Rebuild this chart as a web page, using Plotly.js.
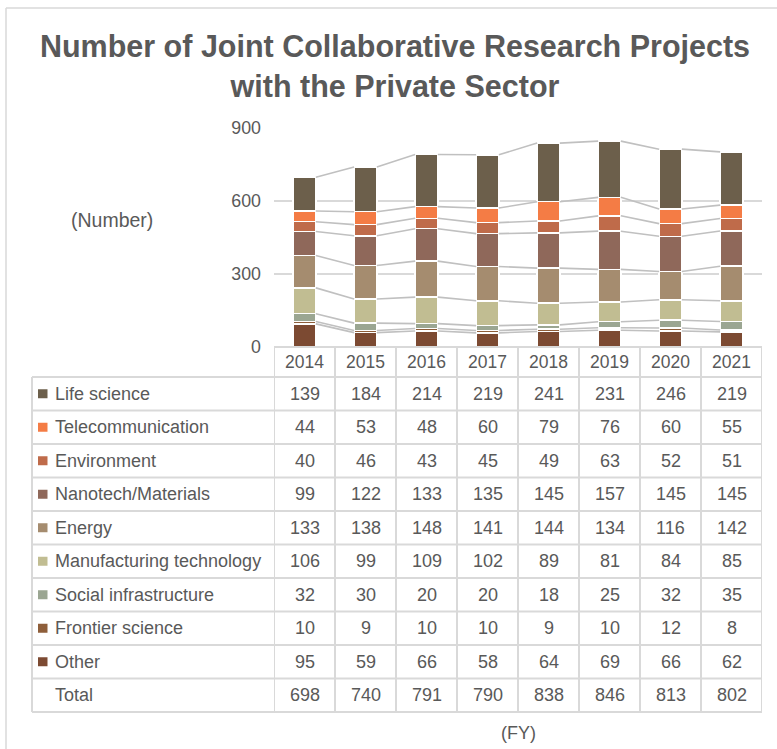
<!DOCTYPE html>
<html>
<head>
<meta charset="utf-8">
<script src="https://cdn.plot.ly/plotly-3.0.1.min.js"></script>
<style>html,body{margin:0;padding:0;background:#fff;}#chart{width:777px;height:749px;}</style>
</head>
<body>
<div id="chart"></div>
<script>
// ---- data ----
const years = [2014, 2015, 2016, 2017, 2018, 2019, 2020, 2021];
// stacking order: bottom to top
const categories = ["Other", "Frontier science", "Social infrastructure", "Manufacturing technology",
  "Energy", "Nanotech/Materials", "Environment", "Telecommunication", "Life science"];
const other        = [95, 59, 66, 58, 64, 69, 66, 62];
const frontier     = [10, 9, 10, 10, 9, 10, 12, 8];
const socialInfra  = [32, 30, 20, 20, 18, 25, 32, 35];
const manufacturing= [106, 99, 109, 102, 89, 81, 84, 85];
const energy       = [133, 138, 148, 141, 144, 134, 116, 142];
const nanotech     = [99, 122, 133, 135, 145, 157, 145, 145];
const environment  = [40, 46, 43, 45, 49, 63, 52, 51];
const telecom      = [44, 53, 48, 60, 79, 76, 60, 55];
const lifeScience  = [139, 184, 214, 219, 241, 231, 246, 219];
const totals       = [698, 740, 791, 790, 838, 846, 813, 802];
const yTicks = [0, 300, 600, 900];

const seriesValues = [other, frontier, socialInfra, manufacturing, energy, nanotech, environment, telecom, lifeScience];
const colors = ["#7c4a32", "#8e5e3a", "#9ba692", "#c1bd92", "#a58c6f", "#8f685a", "#bf6b4a", "#f47c45", "#6c5f4b"];

// ---- geometry helpers ----
const W = 777, H = 749;
const px = x => x / W;
const py = y => 1 - y / H;
const barW = 0.373;
const txt = "#595959";
const FONT = "Liberation Sans, Arial, sans-serif";
const gridC = "#d9d9d9";

const traces = [];
// connector lines (behind bars)
const cum = years.map(() => 0);
const cumLevels = [];
seriesValues.forEach((vals) => {
  const lvl = vals.map((v, i) => cum[i] += v);
  cumLevels.push(lvl.slice());
});
cumLevels.forEach((lvl) => {
  const xs = [], ys = [];
  for (let i = 0; i < years.length - 1; i++) {
    xs.push(years[i] + barW / 2, years[i + 1] - barW / 2, null);
    ys.push(lvl[i], lvl[i + 1], null);
  }
  traces.push({type: "scatter", mode: "lines", x: xs, y: ys, showlegend: false, hoverinfo: "skip",
    line: {color: "#c0c0c0", width: 1.6}, connectgaps: false});
});
seriesValues.forEach((vals, k) => {
  traces.push({type: "bar", x: years, y: vals, name: categories[k], width: barW,
    marker: {color: colors[k], line: {color: "#ffffff", width: 1.5}}, showlegend: false});
});

// ---- table ----
const shapes = [];
const annotations = [];
const tableTop = 347, headerBottom = 377, rowH = 33.5, tableLeft = 32;
const rowOrder = categories.slice().reverse(); // top row first
const rowValues = seriesValues.slice().reverse();
const rowColors = colors.slice().reverse();
const nRows = rowOrder.length + 1;
const tableBottom = headerBottom + rowH * nRows;
const lineStyle = {color: gridC, width: 2};
const cellFont = {family: FONT, size: 18, color: txt};

// horizontal lines
shapes.push({type: "line", xref: "x", yref: "paper", x0: years[0] - 0.5, x1: years[years.length - 1] + 0.5,
  y0: py(tableTop), y1: py(tableTop), line: lineStyle});
for (let r = 0; r <= nRows; r++) {
  const y = headerBottom + r * rowH;
  shapes.push({type: "line", xref: "paper", yref: "paper", x0: px(tableLeft), x1: px(762),
    y0: py(y), y1: py(y), line: lineStyle});
}
// vertical lines
for (let k = 0; k <= years.length; k++) {
  shapes.push({type: "line", xref: "x", yref: "paper", x0: years[0] - 0.5 + k, x1: years[0] - 0.5 + k,
    y0: py(tableTop), y1: py(tableBottom), line: lineStyle});
}
shapes.push({type: "line", xref: "paper", yref: "paper", x0: px(tableLeft), x1: px(tableLeft),
  y0: py(headerBottom), y1: py(tableBottom), line: lineStyle});

// outer chart border (top and left)
shapes.push({type: "line", xref: "paper", yref: "paper", x0: px(6), x1: px(790), y0: py(8), y1: py(8),
  line: {color: gridC, width: 1.5}});
shapes.push({type: "line", xref: "paper", yref: "paper", x0: px(6), x1: px(6), y0: py(8), y1: py(760),
  line: {color: gridC, width: 1.5}});

// header (year labels)
years.forEach((yr) => {
  annotations.push({xref: "x", yref: "paper", x: yr, y: py((tableTop + headerBottom) / 2), text: String(yr),
    showarrow: false, xanchor: "center", yanchor: "middle", font: {family: FONT, size: 17.5, color: txt}});
});
// rows
rowOrder.forEach((name, r) => {
  const cy = headerBottom + rowH * (r + 0.5);
  shapes.push({type: "rect", xref: "paper", yref: "paper", x0: px(38), x1: px(47.5),
    y0: py(cy - 4.5), y1: py(cy + 4.5), fillcolor: rowColors[r], line: {width: 0}});
  annotations.push({xref: "paper", yref: "paper", x: px(53), y: py(cy), text: name, showarrow: false,
    xanchor: "left", yanchor: "middle", font: cellFont});
  rowValues[r].forEach((v, i) => {
    annotations.push({xref: "x", yref: "paper", x: years[i], y: py(cy), text: String(v), showarrow: false,
      xanchor: "center", yanchor: "middle", font: cellFont});
  });
});
{
  const cy = headerBottom + rowH * (rowOrder.length + 0.5);
  annotations.push({xref: "paper", yref: "paper", x: px(53), y: py(cy), text: "Total", showarrow: false,
    xanchor: "left", yanchor: "middle", font: cellFont});
  totals.forEach((v, i) => {
    annotations.push({xref: "x", yref: "paper", x: years[i], y: py(cy), text: String(v), showarrow: false,
      xanchor: "center", yanchor: "middle", font: cellFont});
  });
}
// axis unit labels
annotations.push({xref: "paper", yref: "paper", x: px(112), y: py(220), text: "(Number)", showarrow: false,
  xanchor: "center", yanchor: "middle", font: {family: FONT, size: 19.5, color: txt}});
annotations.push({xref: "paper", yref: "paper", x: px(518), y: py(733), text: "(FY)", showarrow: false,
  xanchor: "center", yanchor: "middle", font: {family: FONT, size: 18, color: txt}});

const layout = {
  width: W, height: H,
  margin: {l: 0, r: 0, t: 0, b: 0},
  paper_bgcolor: "#ffffff", plot_bgcolor: "rgba(0,0,0,0)",
  barmode: "stack",
  showlegend: false,
  font: {family: FONT, color: txt},
  title: {text: "<b>Number of Joint Collaborative Research Projects<br>with the Private Sector</b>",
    x: px(395), xanchor: "center", xref: "paper", y: py(57), yanchor: "middle", yref: "paper",
    font: {family: FONT, size: 30.5, color: txt}},
  xaxis: {domain: [px(274), px(762)], range: [years[0] - 0.5, years[years.length - 1] + 0.5],
    showticklabels: false, showgrid: false, zeroline: false, showline: false, ticks: "", fixedrange: true},
  yaxis: {domain: [py(347), py(128)], range: [0, 900], tickvals: yTicks, ticktext: yTicks.map(String),
    showgrid: true, gridcolor: gridC, gridwidth: 1.5, zeroline: false, showline: false, ticks: "",
    ticklabelstandoff: 12, tickfont: {family: FONT, size: 17.8, color: txt}, fixedrange: true},
  shapes: shapes,
  annotations: annotations
};

Plotly.newPlot("chart", traces, layout, {displayModeBar: false, staticPlot: true});
</script>
</body>
</html>
